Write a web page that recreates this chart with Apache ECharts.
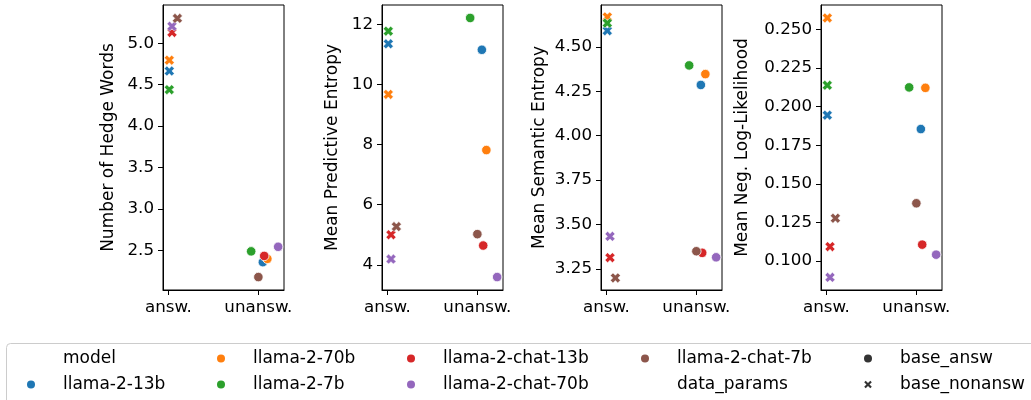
<!DOCTYPE html>
<html>
<head>
<meta charset="utf-8">
<script src="https://cdn.jsdelivr.net/npm/echarts@6/dist/echarts.min.js"></script>
<style>
  html, body { margin: 0; padding: 0; background: #fff; }
  #chart { width: 1031px; height: 400px; }
</style>
</head>
<body>
<div id="chart"></div>
<script>
// categories and models
const categories = ['answ.', 'unansw.']
const models = ['llama-2-13b', 'llama-2-70b', 'llama-2-7b', 'llama-2-chat-13b', 'llama-2-chat-70b', 'llama-2-chat-7b']
const modelColors = ['#1f77b4', '#ff7f0e', '#2ca02c', '#d62728', '#9467bd', '#8c564b']

// jitter of each model around its category
const answJitter = [0.01, 0.01, 0.01, 0.04, 0.04, 0.1]
const unanswJitter = [1.05, 1.1, 0.92, 1.065, 1.22, 1.0]

// Number of Hedge Words
const hedgeAnsw = [4.665, 4.796, 4.44, 5.13, 5.205, 5.30]
const hedgeUnansw = [2.36, 2.40, 2.49, 2.435, 2.545, 2.18]
const hedgeTicks = [2.5, 3.0, 3.5, 4.0, 4.5, 5.0]

// Mean Predictive Entropy
const predAnsw = [11.36, 9.675, 11.78, 5.0, 4.19, 5.27]
const predUnansw = [11.16, 7.82, 12.22, 4.64, 3.59, 5.02]
const predTicks = [4, 6, 8, 10, 12]

// Mean Semantic Entropy
const semAnsw = [4.59, 4.668, 4.633, 3.313, 3.433, 3.199]
const semUnansw = [4.285, 4.346, 4.395, 3.34, 3.315, 3.349]
const semTicks = [3.25, 3.5, 3.75, 4.0, 4.25, 4.5]

// Mean Neg. Log-Likelihood
const nllAnsw = [0.1945, 0.2575, 0.2139, 0.1093, 0.0894, 0.1277]
const nllUnansw = [0.1855, 0.2122, 0.2125, 0.1106, 0.1041, 0.1374]
const nllTicks = [0.1, 0.125, 0.15, 0.175, 0.2, 0.225, 0.25]

const panels = [
  { name: 'Number of Hedge Words', answ: hedgeAnsw, unansw: hedgeUnansw, ticks: hedgeTicks, dec: 1, min: 2.024, max: 5.461, gap: 46 },
  { name: 'Mean Predictive Entropy', answ: predAnsw, unansw: predUnansw, ticks: predTicks, dec: 0, min: 3.159, max: 12.652, gap: 41 },
  { name: 'Mean Semantic Entropy', answ: semAnsw, unansw: semUnansw, ticks: semTicks, dec: 2, min: 3.131, max: 4.735, gap: 53 },
  { name: 'Mean Neg. Log-Likelihood', answ: nllAnsw, unansw: nllUnansw, ticks: nllTicks, dec: 3, min: 0.0812, max: 0.2659, gap: 70 },
]

// legend (column major, 5 columns x 2 rows)
const legendLabels = ['model', 'llama-2-13b', 'llama-2-70b', 'llama-2-7b', 'llama-2-chat-13b',
  'llama-2-chat-70b', 'llama-2-chat-7b', 'data_params', 'base_answ', 'base_nonansw']
const legendColors = [null, '#1f77b4', '#ff7f0e', '#2ca02c', '#d62728', '#9467bd', '#8c564b', null, '#333333', '#333333']

const FONT = 'DejaVu Sans'
// filled "X" marker like matplotlib's
const X_PATH = 'path://M2.6,0L5,2.4L7.4,0L10,2.6L7.6,5L10,7.4L7.4,10L5,7.6L2.6,10L0,7.4L2.4,5L0,2.6Z'

const gridLeft = [163, 382, 601, 821]

const myChart = echarts.init(document.getElementById('chart'), null, { renderer: 'canvas' })

const grid = []
const xAxis = []
const yAxis = []
const series = []

panels.forEach((p, i) => {
  grid.push({
    left: gridLeft[i], top: 5, width: 121, height: 285,
    show: true, borderColor: '#000', borderWidth: 1, backgroundColor: 'transparent',
  })
  xAxis.push({
    type: 'value', gridIndex: i, min: -0.06, max: 1.285,
    splitLine: { show: false },
    axisLine: { show: true, onZero: false, lineStyle: { color: '#000', width: 1 } },
    axisTick: { show: true, length: 5, customValues: [0, 1], lineStyle: { color: '#000' } },
    axisLabel: {
      customValues: [0, 1], margin: 9, color: '#000', fontSize: 16.7, fontFamily: FONT,
      formatter: (v) => categories[Math.round(v)],
    },
  })
  yAxis.push({
    type: 'value', gridIndex: i, min: p.min, max: p.max,
    name: p.name, nameLocation: 'middle', nameGap: p.gap,
    nameTextStyle: { color: '#000', fontSize: 17, fontFamily: FONT },
    splitLine: { show: false },
    axisLine: { show: true, onZero: false, lineStyle: { color: '#000', width: 1 } },
    axisTick: { show: true, length: 5, customValues: p.ticks, lineStyle: { color: '#000' } },
    axisLabel: {
      customValues: p.ticks, margin: 9, color: '#000', fontSize: 16.7, fontFamily: FONT,
      formatter: (v) => v.toFixed(p.dec),
    },
  })
  models.forEach((m, k) => {
    series.push({
      name: m, type: 'scatter', xAxisIndex: i, yAxisIndex: i,
      itemStyle: { color: modelColors[k], borderColor: '#fff', borderWidth: 0.8, opacity: 1 },
      data: [
        { value: [answJitter[k], p.answ[k]], symbol: X_PATH, symbolSize: 10, itemStyle: { borderWidth: 0.5 } },
        { value: [unanswJitter[k], p.unansw[k]], symbol: 'circle', symbolSize: 9.5 },
      ],
      z: 2 + k,
      silent: true,
    })
  })
})

// legend box drawn as graphic
const colMarkX = [31, 221, 411, 645, 868]
const colTextX = [63, 253, 443, 677, 900]
const rowY = [358.5, 384.5]
const graphic = [{
  type: 'rect', shape: { x: 6.5, y: 343.5, width: 1040, height: 80, r: 4 },
  style: { fill: '#fff', stroke: '#cccccc', lineWidth: 1 }, z: 10,
}]
legendLabels.forEach((lab, j) => {
  const col = Math.floor(j / 2)
  const row = j % 2
  const cx = colMarkX[col]
  const cy = rowY[row]
  if (legendColors[j]) {
    if (lab === 'base_nonansw') {
      const s = 3.8, t = 1.5
      graphic.push({
        type: 'polygon', z: 11,
        shape: { points: [
          [cx - s + t, cy - s], [cx, cy - t], [cx + s - t, cy - s], [cx + s, cy - s + t], [cx + t, cy],
          [cx + s, cy + s - t], [cx + s - t, cy + s], [cx, cy + t], [cx - s + t, cy + s], [cx - s, cy + s - t],
          [cx - t, cy], [cx - s, cy - s + t]] },
        style: { fill: legendColors[j] },
      })
    } else {
      graphic.push({ type: 'circle', z: 11, shape: { cx: cx, cy: cy, r: 4 }, style: { fill: legendColors[j] } })
    }
  }
  graphic.push({
    type: 'text', z: 11, x: colTextX[col], y: cy,
    style: { text: lab, fill: '#000', font: '17px "DejaVu Sans"', textVerticalAlign: 'middle', verticalAlign: 'middle' },
  })
})

myChart.setOption({
  animation: false,
  grid: grid,
  xAxis: xAxis,
  yAxis: yAxis,
  series: series,
  graphic: graphic,
})
</script>
</body>
</html>
